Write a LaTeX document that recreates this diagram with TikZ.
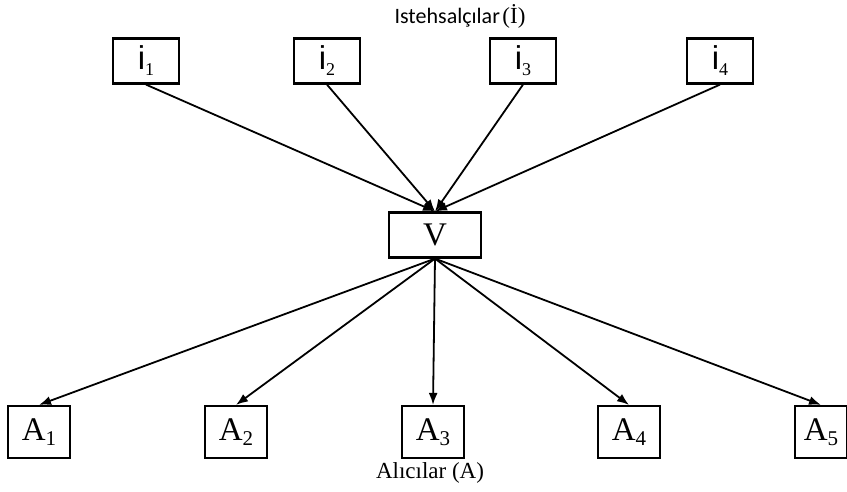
\documentclass[tikz,border=0pt]{standalone}
\usepackage{fontspec}
\setmainfont{Liberation Serif}
\newfontfamily\carlito{Carlito}
\newfontfamily\arialfont{Liberation Sans}
\usepackage{xcolor}
\usepackage{tikz}
\usetikzlibrary{arrows.meta,positioning}

% labels with a small lowered index
\newcommand{\ilab}[1]{{\fontsize{33}{33}\selectfont\arialfont i}\raisebox{-6pt}{\fontsize{18}{18}\selectfont #1}}
\newcommand{\alab}[1]{{\fontsize{33}{33}\selectfont A}\raisebox{-5pt}{\fontsize{21}{21}\selectfont #1}}

\begin{document}
\begin{tikzpicture}[x=1pt,y=-1pt,on grid,>={Latex[length=12pt,width=9pt]}]
		\tikzstyle{ibox}=[draw,line width=2.2pt,minimum width=66pt,minimum height=45pt,inner sep=0pt]
		\tikzstyle{vbox}=[draw,line width=2.2pt,minimum width=92pt,minimum height=45pt,inner sep=0pt]
		\tikzstyle{abox}=[draw,line width=2.2pt,minimum width=62pt,minimum height=52pt,inner sep=0pt]
		\tikzstyle{link}=[->,draw,line width=1.8pt]
		\useasboundingbox (0,0) rectangle (847,491);
		
		\node (ititle) at (460,16) {{\fontsize{22}{22}\selectfont\carlito Istehsalçılar} {\fontsize{23}{23}\selectfont(İ)}};
		
		\node[ibox] (i_1) at (146,61)         {\ilab{1}};
		\node[ibox] (i_2) [right=181pt of i_1] {\ilab{2}};
		\node[ibox] (i_3) [right=196pt of i_2] {\ilab{3}};
		\node[ibox] (i_4) [right=197pt of i_3] {\ilab{4}};
		
		\node[vbox] (V) at (435,235) {\fontsize{33}{33}\selectfont V};
		
		\node[abox] (A_1) at (39,432)          {\alab{1}};
		\node[abox] (A_2) [right=197pt of A_1] {\alab{2}};
		\node[abox] (A_3) [right=197pt of A_2] {\alab{3}};
		\node[abox] (A_4) [right=196pt of A_3] {\alab{4}};
		\node[abox,minimum width=52pt] (A_5) [right=192pt of A_4] {\alab{5}};
		
		\node (atitle) at (430,473) {\fontsize{23}{23}\selectfont Alıcılar (A)};
		
		\path
		(i_1.south) edge [link] (V.north)
		(i_2.south) edge [link] (V.north)
		(i_3.south) edge [link] (V.north)
		(i_4.south) edge [link] (V.north)
		(V.south) edge [link] (A_1.north)
		edge [link] (A_2.north)
		edge [link] (A_3.north)
		edge [link] (A_4.north)
		edge [link] (A_5.north);
		
\end{tikzpicture}
\end{document}
